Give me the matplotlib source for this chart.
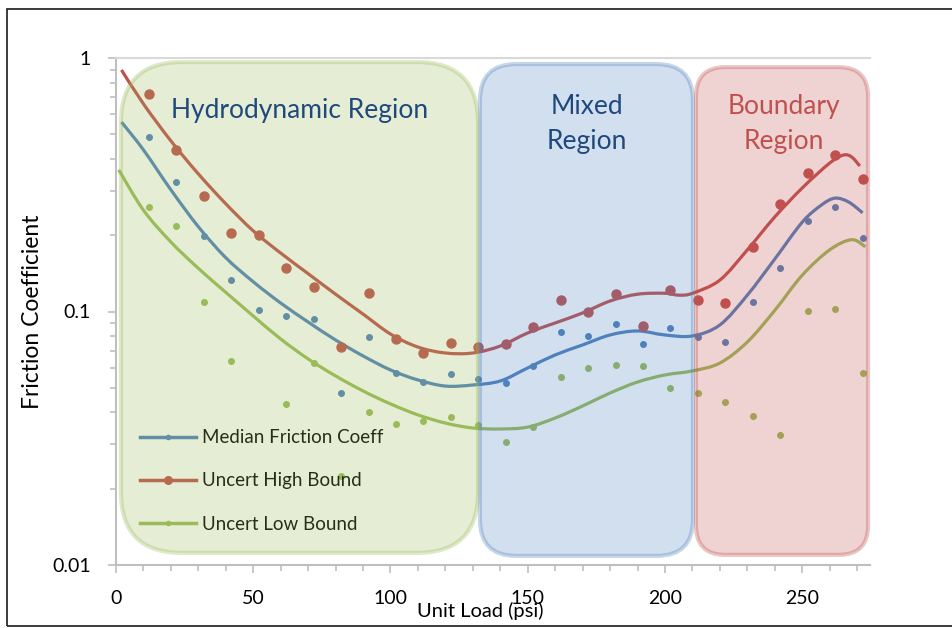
import numpy as np
import matplotlib
matplotlib.use("Agg")
import matplotlib.pyplot as plt
from matplotlib.lines import Line2D
from matplotlib.patches import FancyBboxPatch, Rectangle, PathPatch
from matplotlib.path import Path
from matplotlib.ticker import FixedLocator, MultipleLocator, NullFormatter
from matplotlib.transforms import IdentityTransform

plt.rcParams['font.family'] = ['Lato', 'DejaVu Sans']

# measured points (unit load in psi)
load_pts = [12, 22, 32, 42, 52, 62, 72, 82, 92, 102, 112, 122, 132, 142,
            152, 162, 172, 182, 192, 202, 212, 222, 232, 242, 252, 262, 272]
median_pts = [0.488, 0.324, 0.199, 0.133, 0.101, 0.096, 0.0934, 0.0477, 0.0793,
              0.0572, 0.0527, 0.0567, 0.0542, 0.0522, 0.061, 0.083, 0.080, 0.0893,
              0.0744, 0.0861, 0.0793, 0.0758, 0.109, 0.148, 0.228, 0.258, 0.195]
high_pts = [0.72, 0.434, 0.285, 0.204, 0.200, 0.148, 0.125, 0.0724, 0.118,
            0.078, 0.0686, 0.075, 0.0724, 0.0745, 0.0868, 0.111, 0.0996, 0.117,
            0.088, 0.122, 0.111, 0.108, 0.180, 0.265, 0.352, 0.414, 0.333]
low_pts = [0.258, 0.217, 0.109, 0.0638, np.nan, 0.043, 0.0626, 0.0224, 0.040,
           0.036, 0.037, 0.0384, 0.0357, 0.0306, 0.035, 0.0551, 0.0598, 0.0615,
           0.061, 0.0499, 0.0477, 0.044, 0.0387, 0.0326, 0.1005, 0.102, 0.0572]

# trend curves
high_fit_x = [2, 10, 20, 30, 40, 50, 60, 70, 80, 90, 100, 110, 120, 130, 140, 150,
              160, 170, 180, 190, 200, 205, 210, 220, 230, 240, 250, 260, 265, 268, 271]
high_fit = [0.897, 0.659, 0.471, 0.349, 0.266, 0.208, 0.170, 0.141, 0.117, 0.0977,
            0.0815, 0.0724, 0.0686, 0.0686, 0.0731, 0.0823, 0.0901, 0.0987, 0.110,
            0.117, 0.118, 0.116, 0.118, 0.133, 0.175, 0.236, 0.307, 0.385, 0.414,
            0.407, 0.375]
median_fit_x = [2, 10, 20, 30, 40, 50, 60, 70, 80, 90, 100, 110, 120, 130, 140, 150,
                160, 170, 180, 190, 200, 210, 220, 230, 240, 250, 257, 262, 267, 272]
median_fit = [0.559, 0.434, 0.302, 0.216, 0.163, 0.131, 0.108, 0.0909, 0.0772,
              0.0668, 0.0588, 0.0537, 0.0508, 0.0513, 0.0532, 0.0599, 0.0674,
              0.0738, 0.0808, 0.0838, 0.0808, 0.0801, 0.0885, 0.116, 0.161, 0.225,
              0.263, 0.280, 0.270, 0.245]
low_fit_x = [1, 10, 20, 30, 40, 50, 60, 70, 80, 90, 100, 110, 120, 130, 140, 150,
             160, 170, 180, 190, 200, 210, 220, 230, 240, 250, 260, 268, 273]
low_fit = [0.362, 0.251, 0.188, 0.148, 0.119, 0.096, 0.0779, 0.0650, 0.0557,
           0.0486, 0.0432, 0.0391, 0.0363, 0.0347, 0.0344, 0.0350, 0.0380, 0.0424,
           0.0477, 0.0527, 0.0562, 0.0583, 0.0626, 0.0758, 0.101, 0.139, 0.175,
           0.192, 0.180]

series_labels = ['Median Friction Coeff', 'Uncert High Bound', 'Uncert Low Bound']

# regions: (label, x start, x end, colour, text colour)
regions = [("Hydrodynamic Region", 1.8, 131.9, '#9BBB59', '#1F497D'),
           ("Mixed\nRegion", 132.6, 210.2, '#4F81BD', '#1F497D'),
           ("Boundary\nRegion", 211.3, 274.0, '#C0504D', '#C0504D')]

BLUE, RED, GREEN = '#4F81BD', '#C0504D', '#9BBB59'
AXIS_GREY = '#BFBFBF'


def smooth_path(xs, ys):
    # Excel-style smoothed line: bezier segments through the points (log y)
    x = np.asarray(xs, float)
    ly = np.log10(np.asarray(ys, float))
    n = len(x)
    verts = [(x[0], ly[0])]
    codes = [Path.MOVETO]
    for i in range(n - 1):
        p0 = np.array([x[max(i - 1, 0)], ly[max(i - 1, 0)]])
        p1 = np.array([x[i], ly[i]])
        p2 = np.array([x[i + 1], ly[i + 1]])
        p3 = np.array([x[min(i + 2, n - 1)], ly[min(i + 2, n - 1)]])
        c1 = p1 + (p2 - p0) / 6
        c2 = p2 - (p3 - p1) / 6
        verts += [tuple(c1), tuple(c2), tuple(p2)]
        codes += [Path.CURVE4] * 3
    verts = [(vx, 10 ** vy) for vx, vy in verts]
    return Path(verts, codes)


fig = plt.figure(figsize=(9.52, 6.28), dpi=100)
ax = fig.add_axes([116 / 952, 63 / 628, 754 / 952, 507 / 628])
ax.set_yscale('log')

for fx, fy, col in [(median_fit_x, median_fit, BLUE), (high_fit_x, high_fit, RED),
                    (low_fit_x, low_fit, GREEN)]:
    ax.add_patch(PathPatch(smooth_path(fx, fy), fill=False, edgecolor=col,
                           lw=2.3, capstyle='butt', zorder=2))
ax.plot(load_pts, median_pts, 'o', color=BLUE, ms=4, zorder=3)
ax.plot(load_pts, high_pts, 'o', color=RED, ms=6.5, zorder=3)
ax.plot(load_pts, low_pts, 'o', color=GREEN, ms=4, zorder=3)

ax.set_ylim(0.01, 1)
ax.set_xlim(0, 274.7)
ax.yaxis.set_major_locator(FixedLocator([0.01, 0.1, 1]))
ax.set_yticklabels(['0.01', '0.1', '1'])
ax.yaxis.set_minor_locator(FixedLocator([m * 10.0 ** e for e in (-2, -1) for m in range(2, 10)]))
ax.yaxis.set_minor_formatter(NullFormatter())
ax.xaxis.set_major_locator(MultipleLocator(50))
ax.xaxis.set_minor_locator(MultipleLocator(10))

for side in ('left', 'bottom'):
    ax.spines[side].set_color(AXIS_GREY)
    ax.spines[side].set_linewidth(1.5)
ax.spines['top'].set_color('#D9D9D9')
ax.spines['top'].set_linewidth(1.5)
ax.spines['right'].set_visible(False)
ax.tick_params(which='major', length=6, width=1.2, color=AXIS_GREY, labelsize=14)
ax.tick_params(which='minor', length=4, width=1.2, color=AXIS_GREY)
ax.tick_params(axis='x', which='major', pad=12)
ax.tick_params(axis='y', which='major', pad=12)

ax.set_xlabel('Unit Load (psi)', fontsize=14.5, va='center')
ax.xaxis.set_label_coords(0.483, -0.09)
ax.set_ylabel('Friction Coefficient', fontsize=16.5, va='center')
ax.yaxis.set_label_coords(-0.111, 0.5)

handles = [Line2D([], [], color=BLUE, lw=2.5, marker='o', ms=3),
           Line2D([], [], color=RED, lw=2.5, marker='o', ms=5.5),
           Line2D([], [], color=GREEN, lw=2.5, marker='o', ms=3)]
leg = ax.legend(handles, series_labels,
                loc='center left', bbox_to_anchor=(0.032, 0.166), frameon=False,
                fontsize=13.5, handlelength=3.0, handletextpad=0.3, labelspacing=1.4,
                borderpad=0, borderaxespad=0)
leg.set_zorder(3)

# translucent rounded region boxes drawn over the data
fig.canvas.draw()
tops = [0.992, 0.988, 0.982]
bottoms = [0.024, 0.018, 0.02]
for (label, x0, x1, col, tcol), top, bot in zip(regions, tops, bottoms):
    px0 = ax.transData.transform((x0, 0.1))[0]
    px1 = ax.transData.transform((x1, 0.1))[0]
    py0 = ax.transAxes.transform((0, bot))[1]
    py1 = ax.transAxes.transform((0, top))[1]
    r = 0.17 * min(px1 - px0, py1 - py0)
    rgb = matplotlib.colors.to_rgb(col)
    box = FancyBboxPatch((px0, py0), px1 - px0, py1 - py0,
                         boxstyle=f"round,pad=0,rounding_size={r}",
                         facecolor=rgb + (0.25,), edgecolor=rgb + (0.32,),
                         linewidth=3, transform=IdentityTransform(),
                         zorder=4, clip_on=False)
    ax.add_patch(box)

ax.text(0.244, 0.897, regions[0][0], transform=ax.transAxes, ha='center', va='center',
        fontsize=19, color=regions[0][4], zorder=6)
ax.text(0.625, 0.870, regions[1][0], transform=ax.transAxes, ha='center', va='center',
        fontsize=19, color=regions[1][4], linespacing=1.5, zorder=6)
ax.text(0.886, 0.870, regions[2][0], transform=ax.transAxes, ha='center', va='center',
        fontsize=19, color=regions[2][4], linespacing=1.5, zorder=6)

# outer frame around the whole picture
fig.patches.append(Rectangle((7 / 952, 2 / 628), 1.0, 617 / 628, transform=fig.transFigure,
                             fill=False, edgecolor='#1A1A1A', linewidth=1.2))

fig.savefig('out.png', dpi=100)
